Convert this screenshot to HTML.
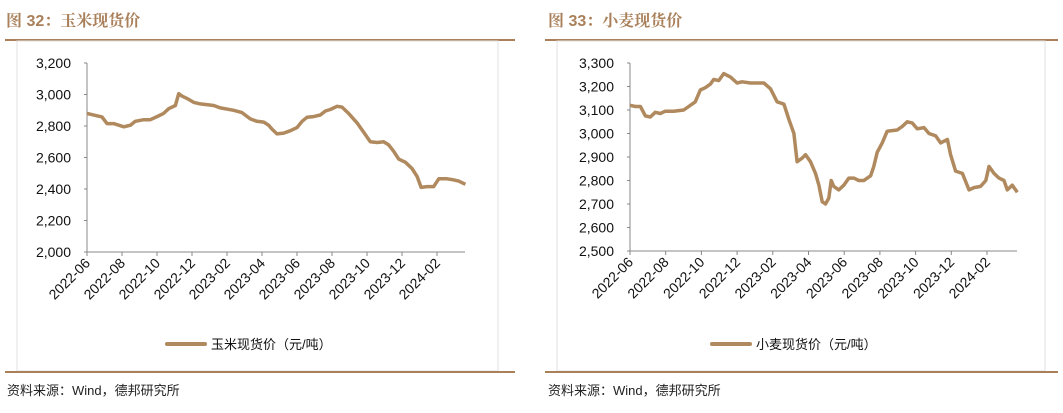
<!DOCTYPE html>
<html><head><meta charset="utf-8"><style>
body{margin:0;width:1063px;height:413px;background:#fff;overflow:hidden;font-family:"Liberation Sans","Noto Sans CJK SC",sans-serif}
svg{position:absolute;left:0;top:0}
</style></head><body>
<svg id="s" width="1063" height="413" xmlns="http://www.w3.org/2000/svg">
<text x="6" y="26" font-size="16" font-weight="bold" fill="#a9805a" font-family="Liberation Sans,Noto Serif CJK SC,serif">图 32：玉米现货价</text>
<text x="548" y="26" font-size="16" font-weight="bold" fill="#a9805a" font-family="Liberation Sans,Noto Serif CJK SC,serif">图 33：小麦现货价</text>
<line x1="5" y1="40" x2="515" y2="40" stroke="#a9805a" stroke-width="2"/>
<line x1="545" y1="40" x2="1058" y2="40" stroke="#a9805a" stroke-width="2"/>
<rect x="17" y="41" width="481" height="330" fill="none" stroke="#e0e0e0"/>
<rect x="557" y="41" width="488" height="330" fill="none" stroke="#e0e0e0"/>
<line x1="5" y1="372" x2="515" y2="372" stroke="#a9805a" stroke-width="2"/>
<line x1="545" y1="372" x2="1058" y2="372" stroke="#a9805a" stroke-width="2"/>
<text x="7" y="395" font-size="13" fill="#222" font-family="Liberation Sans,Noto Sans CJK SC,sans-serif">资料来源：Wind，德邦研究所</text>
<text x="548" y="395" font-size="13" fill="#222" font-family="Liberation Sans,Noto Sans CJK SC,sans-serif">资料来源：Wind，德邦研究所</text>
</svg>
<script>
const xTickLabels=["2022-06","2022-08","2022-10","2022-12","2023-02","2023-04","2023-06","2023-08","2023-10","2023-12","2024-02"];
// month offset from 2022-06 and price
const cornT=[0,0.57,0.86,1.14,1.52,2.1,2.48,2.76,3.24,3.62,4,4.38,4.67,5.05,5.24,5.43,5.71,6.1,6.48,7.24,7.62,8.38,8.86,9.33,9.71,10.1,10.38,10.57,10.86,11.24,11.62,12,12.29,12.57,12.95,13.33,13.62,13.9,14.29,14.57,14.95,15.43,15.81,16.19,16.57,16.95,17.24,17.52,17.81,18.19,18.57,18.86,19.09,19.43,19.81,20.1,20.57,20.86,21.24,21.62];
const cornV=[2880,2865,2858,2815,2815,2795,2805,2830,2840,2840,2860,2880,2910,2930,3005,2990,2975,2950,2940,2930,2915,2900,2885,2845,2830,2825,2805,2780,2750,2755,2770,2790,2830,2855,2860,2870,2895,2905,2925,2920,2880,2820,2760,2700,2695,2700,2680,2640,2590,2570,2530,2480,2410,2415,2415,2465,2465,2460,2450,2430];
const wheatT=[0,0.3,0.58,0.86,1.14,1.42,1.7,1.98,2.45,3.01,3.29,3.66,3.94,4.22,4.5,4.69,4.97,5.25,5.63,6,6.28,6.75,7.5,7.87,8.24,8.62,8.9,9.18,9.36,9.64,9.83,10.11,10.39,10.58,10.77,10.95,11.14,11.27,11.42,11.7,11.98,12.26,12.54,12.82,13.1,13.48,13.66,13.85,14.13,14.41,14.97,15.25,15.53,15.81,16.09,16.47,16.75,17.12,17.4,17.78,17.96,18.24,18.62,18.99,19.27,19.64,19.93,20.11,20.39,20.67,20.95,21.14,21.42,21.7];
const wheatV=[3120,3115,3115,3075,3070,3090,3085,3095,3095,3100,3115,3135,3185,3195,3210,3230,3225,3255,3240,3215,3220,3215,3215,3190,3135,3125,3060,3000,2880,2895,2910,2880,2830,2780,2710,2700,2725,2800,2775,2760,2780,2810,2810,2800,2800,2820,2860,2920,2960,3010,3015,3030,3050,3045,3020,3025,3000,2990,2960,2975,2910,2840,2830,2760,2770,2775,2800,2860,2830,2810,2800,2760,2780,2750];
const cornTicks=[2000,2200,2400,2600,2800,3000,3200];
const wheatTicks=[2500,2600,2700,2800,2900,3000,3100,3200,3300];
const svg=document.getElementById('s');const NS='http://www.w3.org/2000/svg';
function mk(t,a,p){const e=document.createElementNS(NS,t);for(const k in a)e.setAttribute(k,a[k]);(p||svg).appendChild(e);return e;}
function draw(c){
 const xs=t=>c.x0+t*c.pm, ys=v=>c.y1-(v-c.vmin)/(c.vmax-c.vmin)*(c.y1-c.y0);
 const g=mk('g',{});
 
 
 const ya=mk('line',{x1:c.x0,y1:c.y0,x2:c.x0,y2:c.y1,stroke:'#888'},g);
 
 
 const xa=mk('line',{x1:c.x0,y1:c.y1,x2:c.xEnd,y2:c.y1,stroke:'#888'},g);
 
 
 c.ticks.forEach(v=>{const y=ys(v);
  mk('line',{x1:c.x0-3,y1:y,x2:c.x0,y2:y,stroke:'#888'},g);
  const t=mk('text',{x:c.x0-16,y:y+5,'text-anchor':'end','font-size':14,fill:'#111'},g);t.textContent=v.toLocaleString('en-US');
  
  });
 xTickLabels.forEach((l,i)=>{const x=xs(i*2);
  mk('line',{x1:x,y1:c.y1,x2:x,y2:c.y1+4,stroke:'#888'},g);
  const t=mk('text',{x:0,y:0,'text-anchor':'end','font-size':14,fill:'#111',transform:`translate(${x+4},${c.y1+12}) rotate(-45)`},g);t.textContent=l;
  
  });
 const d=c.T.map((t,i)=>(i?'L':'M')+xs(t).toFixed(1)+','+ys(c.V[i]).toFixed(1)).join('');
 const p=mk('path',{d:d,fill:'none',stroke:'#b08a5e','stroke-width':3.5,'stroke-linejoin':'round'},g);
 
 
 const ll=mk('line',{x1:c.lx,y1:344,x2:c.lx+38,y2:344,stroke:'#b08a5e','stroke-width':4,'stroke-linecap':'round'},g);
 
 
 const lt=mk('text',{x:c.lx+44,y:349,'font-size':13,fill:'#111'},g);lt.textContent=c.legend;
 
 
}
draw({name:'corn-chart',x0:87,xEnd:465,pm:17.5,y0:63,y1:252,vmin:2000,vmax:3200,ticks:cornTicks,T:cornT,V:cornV,lx:167,legend:'玉米现货价（元/吨）'});
draw({name:'wheat-chart',x0:630,xEnd:1017,pm:17.85,y0:63,y1:251,vmin:2500,vmax:3300,ticks:wheatTicks,T:wheatT,V:wheatV,lx:712,legend:'小麦现货价（元/吨）'});
</script>
</body></html>
